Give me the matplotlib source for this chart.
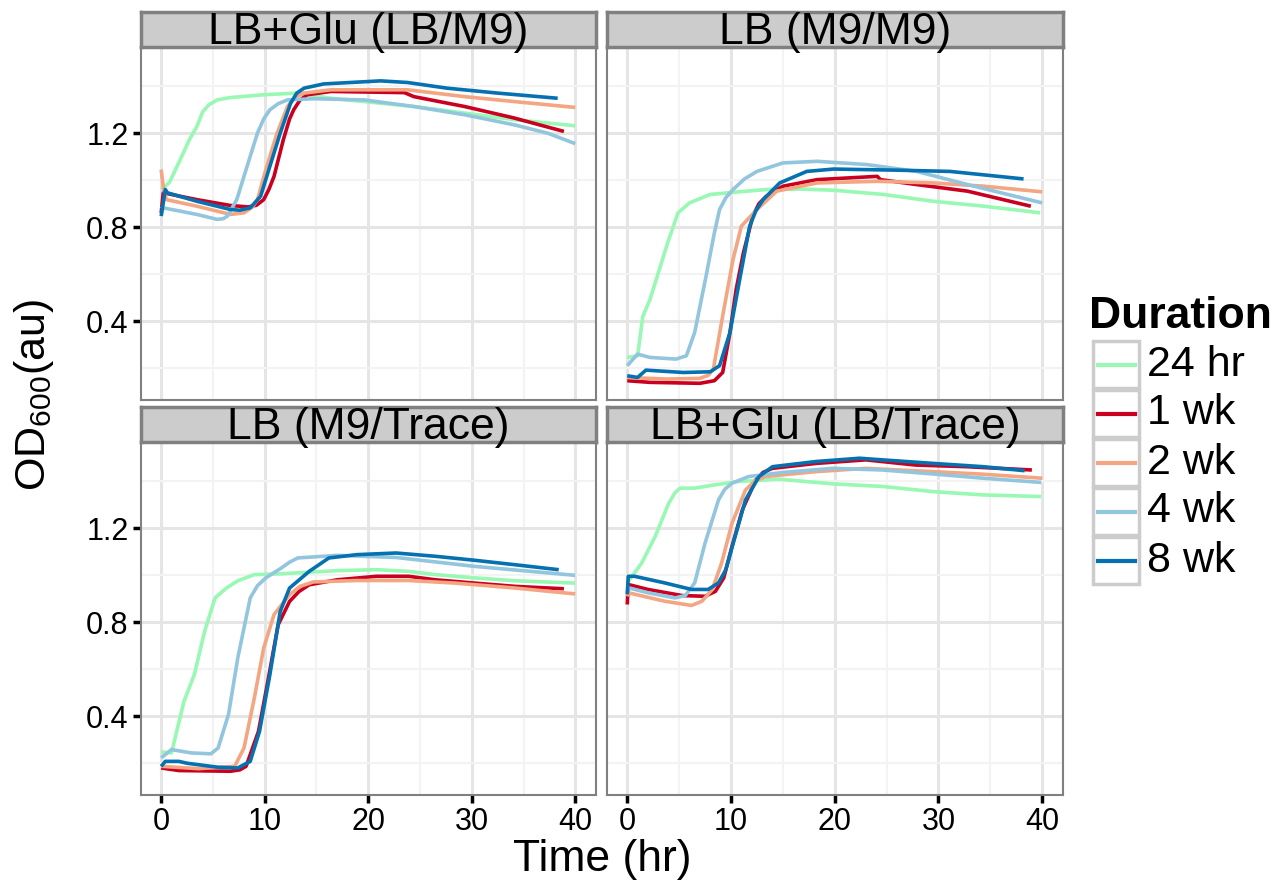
"""
Growth curves (OD600 vs time) for four media, one line per storage duration.
"""

import matplotlib
matplotlib.use("Agg")
import matplotlib.pyplot as plt
from matplotlib.patches import Rectangle
from matplotlib.lines import Line2D

plt.rcParams['font.family'] = ['Liberation Sans', 'DejaVu Sans']
plt.rcParams['mathtext.fontset'] = 'custom'
plt.rcParams['mathtext.rm'] = 'Liberation Sans'
plt.rcParams['mathtext.it'] = 'Liberation Sans:italic'

durations = ["24 hr", "1 wk", "2 wk", "4 wk", "8 wk"]
colors = ["#98F8B4", "#CA0020", "#F4A582", "#92C5DE", "#0571B0"]
panel_titles = ["LB+Glu (LB/M9)", "LB (M9/M9)", "LB (M9/Trace)", "LB+Glu (LB/Trace)"]
x_ticks = [0, 10, 20, 30, 40]
y_ticks = [0.4, 0.8, 1.2]

# (time hr, OD600)
tl_24hr = [(0, 0.96), (0.8, 0.99), (1.84, 1.087), (2.7, 1.17), (3.45, 1.228), (4.0, 1.29), (4.6, 1.32),
           (5.4, 1.341), (6.7, 1.351), (9.9, 1.363), (13.1, 1.37), (16.4, 1.348), (19.6, 1.334),
           (24.4, 1.313), (29.3, 1.285), (34.1, 1.257), (40, 1.231)]
tl_1wk = [(0, 0.86), (0.2, 0.946), (3.45, 0.917), (6.7, 0.892), (8.4, 0.886), (9.2, 0.893), (9.9, 0.917),
          (10.4, 0.96), (10.9, 1.016), (11.8, 1.172), (12.4, 1.26), (12.8, 1.299), (13.4, 1.34),
          (14.1, 1.363), (16.4, 1.377), (23.5, 1.372), (24.4, 1.355), (29.3, 1.313), (34.1, 1.264),
          (38.9, 1.207)]
tl_2wk = [(0, 1.045), (0.2, 0.97), (0.5, 0.917), (3.45, 0.889), (6.7, 0.854), (8.0, 0.861), (8.8, 0.885),
          (9.3, 0.917), (10.2, 1.059), (11.2, 1.2), (12.2, 1.313), (12.9, 1.352), (13.8, 1.37),
          (16.4, 1.384), (23.8, 1.384), (29.3, 1.355), (34.1, 1.334), (40, 1.309)]
tl_4wk = [(0, 0.889), (0.2, 0.882), (3.45, 0.854), (5.4, 0.833), (6.0, 0.836), (6.4, 0.847), (7.3, 0.917),
          (8.3, 1.059), (9.3, 1.2), (9.9, 1.26), (10.5, 1.299), (11.3, 1.325), (12.2, 1.341), (14.7, 1.346),
          (19.6, 1.341), (24.4, 1.313), (29.3, 1.278), (34.1, 1.235), (37.3, 1.2), (40, 1.155)]
tl_8wk = [(0, 0.847), (0.4, 0.96), (0.6, 0.946), (3.45, 0.91), (6.7, 0.875), (7.6, 0.872), (8.6, 0.882),
          (9.6, 0.931), (10.5, 1.059), (11.5, 1.2), (12.5, 1.327), (13.1, 1.37), (13.8, 1.391),
          (15.7, 1.409), (21.2, 1.422), (23.8, 1.415), (27.6, 1.391), (32.5, 1.37), (38.3, 1.348)]

tr_24hr = [(0, 0.246), (1.0, 0.253), (1.5, 0.42), (2.2, 0.493), (3.3, 0.649), (3.9, 0.734), (4.9, 0.861),
           (6.0, 0.903), (8.0, 0.939), (10.2, 0.948), (13.4, 0.96), (16.7, 0.962), (19.9, 0.957),
           (24.7, 0.939), (29.5, 0.91), (34.4, 0.889), (39.8, 0.861)]
tr_1wk = [(0, 0.147), (2.2, 0.14), (7.0, 0.136), (8.4, 0.147), (9.2, 0.182), (9.9, 0.352), (10.5, 0.536),
          (11.2, 0.691), (12.1, 0.847), (12.7, 0.9), (13.4, 0.931), (15.0, 0.974), (18.3, 1.002),
          (24.1, 1.016), (24.4, 1.002), (27.9, 0.981), (32.8, 0.953), (38.9, 0.889)]
tr_2wk = [(0, 0.161), (3.8, 0.154), (7.0, 0.157), (7.8, 0.17), (8.3, 0.196), (9.2, 0.423), (10.2, 0.663),
          (11.0, 0.804), (12.5, 0.875), (14.4, 0.953), (18.3, 0.988), (24.1, 0.995), (29.5, 0.988),
          (34.4, 0.974), (40, 0.95)]
tr_4wk = [(0, 0.211), (1.0, 0.26), (2.2, 0.246), (4.7, 0.239), (5.7, 0.253), (6.5, 0.352), (7.6, 0.592),
          (8.4, 0.776), (8.9, 0.875), (9.5, 0.925), (10.2, 0.96), (11.3, 1.005), (12.5, 1.037),
          (15.0, 1.073), (18.3, 1.08), (23.1, 1.066), (27.9, 1.037), (32.8, 0.981), (40, 0.903)]
tr_8wk = [(0, 0.168), (1.0, 0.161), (1.8, 0.192), (5.4, 0.182), (8.0, 0.185), (8.9, 0.211), (9.9, 0.352),
          (10.9, 0.592), (11.8, 0.804), (12.4, 0.87), (13.1, 0.917), (14.7, 0.988), (17.3, 1.037),
          (19.9, 1.047), (26.3, 1.042), (31.1, 1.037), (38.2, 1.005)]

bl_24hr = [(0, 0.248), (1.0, 0.244), (1.5, 0.336), (2.2, 0.463), (3.2, 0.577), (4.2, 0.761), (5.2, 0.903),
           (6.3, 0.945), (7.4, 0.976), (9.0, 1.002), (11.3, 1.005), (17.0, 1.019), (20.8, 1.023),
           (23.9, 1.016), (26.5, 1.002), (30.3, 0.988), (34.2, 0.976), (40, 0.966)]
bl_1wk = [(0, 0.18), (1.7, 0.169), (6.7, 0.166), (7.6, 0.172), (8.2, 0.187), (9.4, 0.336), (10.3, 0.548),
          (11.3, 0.789), (12.4, 0.888), (13.3, 0.93), (14.3, 0.959), (17.0, 0.98), (20.8, 0.995),
          (23.9, 0.995), (26.5, 0.98), (30.3, 0.966), (34.2, 0.952), (38.9, 0.942)]
bl_2wk = [(0, 0.187), (3.6, 0.177), (7.1, 0.187), (8.0, 0.265), (9.0, 0.478), (9.9, 0.69), (10.9, 0.832),
          (12.4, 0.917), (13.4, 0.952), (14.7, 0.971), (18.9, 0.977), (23.9, 0.977), (28.4, 0.966),
          (34.2, 0.945), (40, 0.92)]
bl_4wk = [(0, 0.223), (1.0, 0.258), (2.9, 0.244), (4.8, 0.24), (5.5, 0.265), (6.5, 0.407), (7.4, 0.648),
          (8.6, 0.903), (9.3, 0.955), (10.1, 0.988), (11.6, 1.03), (12.4, 1.055), (13.2, 1.073),
          (17.0, 1.084), (22.7, 1.075), (30.3, 1.037), (40, 0.999)]
bl_8wk = [(0, 0.187), (0.4, 0.208), (1.7, 0.208), (2.5, 0.2), (5.5, 0.183), (7.4, 0.18), (8.6, 0.208),
          (9.5, 0.336), (10.5, 0.577), (11.5, 0.846), (12.4, 0.945), (14.3, 1.016), (16.2, 1.073),
          (18.9, 1.087), (22.7, 1.094), (26.5, 1.08), (30.3, 1.063), (34.2, 1.044), (38.4, 1.023)]

br_24hr = [(0, 0.967), (1.4, 1.052), (2.7, 1.165), (4.0, 1.306), (4.6, 1.35), (5.1, 1.37), (6.5, 1.37),
           (8.5, 1.384), (10.7, 1.398), (14.6, 1.408), (19.8, 1.388), (24.6, 1.377), (29.5, 1.355),
           (34.3, 1.341), (39.9, 1.334)]
br_1wk = [(0, 0.875), (0.1, 0.96), (2.0, 0.939), (5.3, 0.913), (7.5, 0.91), (8.5, 0.931), (9.3, 0.988),
          (10.1, 1.122), (11.1, 1.278), (12.4, 1.405), (13.1, 1.437), (14.0, 1.454), (18.2, 1.475),
          (23.0, 1.49), (27.8, 1.468), (32.7, 1.461), (39.0, 1.447)]
br_2wk = [(0, 0.91), (0.1, 0.925), (3.6, 0.889), (6.2, 0.871), (7.2, 0.889), (8.2, 0.939), (9.1, 1.052),
          (10.1, 1.221), (11.4, 1.362), (12.3, 1.4), (13.3, 1.419), (18.2, 1.44), (23.0, 1.454),
          (29.5, 1.44), (34.3, 1.429), (40, 1.412)]
br_4wk = [(0, 0.925), (0.1, 0.946), (2.0, 0.925), (4.6, 0.903), (5.6, 0.913), (6.5, 0.967), (7.5, 1.136),
          (8.8, 1.32), (9.4, 1.365), (10.1, 1.391), (11.7, 1.419), (14.9, 1.436), (19.8, 1.454),
          (24.6, 1.447), (29.5, 1.43), (34.3, 1.412), (39.9, 1.394)]
br_8wk = [(0, 0.918), (0.1, 0.995), (0.7, 0.995), (3.6, 0.967), (6.2, 0.939), (7.8, 0.939), (8.8, 0.967),
          (9.5, 1.023), (10.4, 1.165), (11.4, 1.32), (12.7, 1.419), (14.0, 1.461), (18.2, 1.483),
          (22.4, 1.497), (24.6, 1.49), (29.5, 1.475), (34.3, 1.461), (38.3, 1.444)]

panels = [
    [tl_24hr, tl_1wk, tl_2wk, tl_4wk, tl_8wk],
    [tr_24hr, tr_1wk, tr_2wk, tr_4wk, tr_8wk],
    [bl_24hr, bl_1wk, bl_2wk, bl_4wk, bl_8wk],
    [br_24hr, br_1wk, br_2wk, br_4wk, br_8wk],
]

W, H = 1278, 883
fig = plt.figure(figsize=(W / 100, H / 100), dpi=100)

def px_box(left, top, right, bottom):
    return [left / W, 1 - bottom / H, (right - left) / W, (bottom - top) / H]

panel_px = [(141, 47, 596, 400), (607, 47, 1063, 400), (141, 442, 596, 795), (607, 442, 1063, 795)]

for i, (title, series) in enumerate(zip(panel_titles, panels)):
    left, top, right, bottom = panel_px[i]
    ax = fig.add_axes(px_box(left, top, right, bottom))
    for data, c in zip(series, colors):
        t = [p[0] for p in data]
        od = [p[1] for p in data]
        ax.plot(t, od, color=c, lw=2.6, solid_capstyle='butt', solid_joinstyle='round')
    ax.set_xlim(-1.95, 42.0)
    ax.set_ylim(0.065, 1.566)
    ax.set_xticks(x_ticks)
    ax.set_xticks([5, 15, 25, 35], minor=True)
    ax.set_yticks(y_ticks)
    ax.set_yticks([0.2, 0.6, 1.0, 1.4], minor=True)
    ax.grid(True, which='major', color='#E5E5E5', lw=2.2)
    ax.grid(True, which='minor', color='#F3F3F3', lw=1.5)
    ax.set_axisbelow(True)
    for s in ax.spines.values():
        s.set_color('#808080')
        s.set_linewidth(1.5)
    ax.tick_params(which='minor', length=0)
    ax.tick_params(which='major', length=6, width=2.5, color='black', labelsize=22, pad=3)
    ax.set_yticklabels([f"{v:.1f}" for v in y_ticks])
    if i < 2:
        ax.tick_params(axis='x', length=0, labelbottom=False)
    if i % 2 == 1:
        ax.tick_params(axis='y', length=0, labelleft=False)

    # facet strip
    sax = fig.add_axes(px_box(left, top - 35, right, top))
    sax.set_facecolor('#CCCCCC')
    sax.set_xticks([])
    sax.set_yticks([])
    for s in sax.spines.values():
        s.set_color('#808080')
        s.set_linewidth(2.5)
    sax.text(0.5, 0.42, title, ha='center', va='center', fontsize=32, transform=sax.transAxes)

fig.text(602 / W, 1 - 860 / H, "Time (hr)", ha='center', va='center', fontsize=32)
fig.text(12 / W, 1 - 395 / H, r"OD$_{\mathrm{600}}$(au)", ha='left', va='center', rotation=90, fontsize=31)

# legend drawn in pixel space like ggplot's keys
lax = fig.add_axes([0, 0, 1, 1])
lax.set_xlim(0, W)
lax.set_ylim(H, 0)
lax.axis('off')
lax.text(1089, 317, "Duration", fontsize=32, fontweight='bold', ha='left', va='center')
key_top = 340
key_h = 49
for k, (lab, c) in enumerate(zip(durations, colors)):
    y0 = key_top + k * key_h
    lax.add_patch(Rectangle((1093, y0 + 1), 46, key_h - 2, facecolor='white', edgecolor='#CCCCCC', lw=2.5))
    lax.add_line(Line2D([1098, 1135], [y0 + key_h / 2, y0 + key_h / 2], color=c, lw=3))
    lax.text(1147, y0 + key_h / 2, lab, fontsize=31, ha='left', va='center')

plt.savefig("out.png", dpi=100)
